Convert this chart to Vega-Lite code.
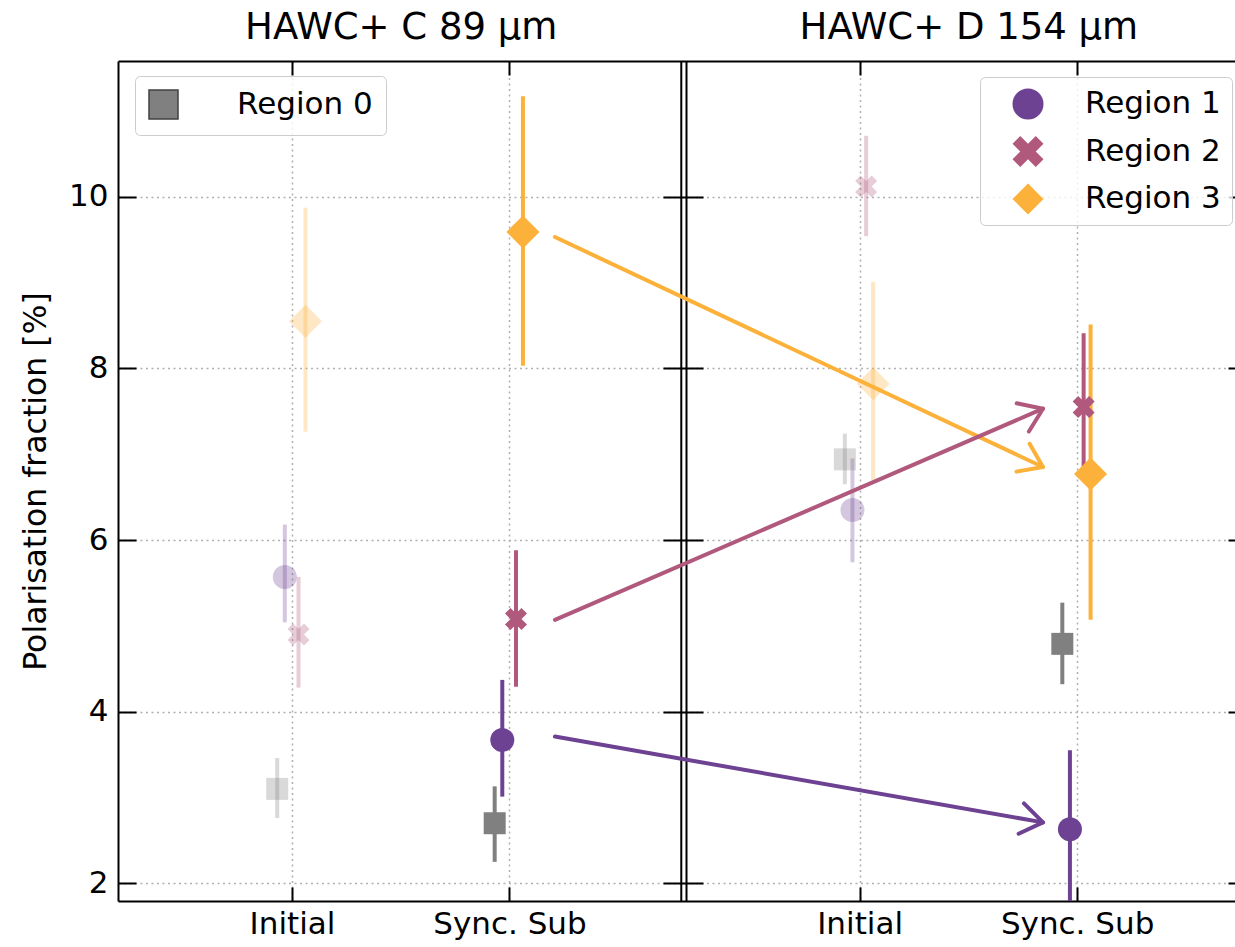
{
  "$schema": "https://vega.github.io/schema/vega-lite/v6.json",
  "width": 1117,
  "height": 840,
  "autosize": {"type": "none"},
  "padding": {"left": 118, "top": 61, "right": 0, "bottom": 46},
  "background": "white",
  "config": {
    "view": {"stroke": null},
    "font": "DejaVu Sans",
    "axis": {"labelFont": "DejaVu Sans", "titleFont": "DejaVu Sans", "labelColor": "black", "titleColor": "black", "tickColor": "black", "domainColor": "black"},
    "legend": {"labelFont": "DejaVu Sans", "labelColor": "black"}
  },
  "datasets": {
    "pts": [
      {"band": "C 89", "stage": "Initial", "region": "Region 0", "p": 3.10, "lo": 2.76, "hi": 3.46},
      {"band": "C 89", "stage": "Initial", "region": "Region 1", "p": 5.57, "lo": 5.04, "hi": 6.18},
      {"band": "C 89", "stage": "Initial", "region": "Region 2", "p": 4.90, "lo": 4.28, "hi": 5.57},
      {"band": "C 89", "stage": "Initial", "region": "Region 3", "p": 8.55, "lo": 7.26, "hi": 9.87},
      {"band": "C 89", "stage": "Sync. Sub", "region": "Region 0", "p": 2.70, "lo": 2.25, "hi": 3.13},
      {"band": "C 89", "stage": "Sync. Sub", "region": "Region 1", "p": 3.67, "lo": 3.01, "hi": 4.37},
      {"band": "C 89", "stage": "Sync. Sub", "region": "Region 2", "p": 5.08, "lo": 4.29, "hi": 5.88},
      {"band": "C 89", "stage": "Sync. Sub", "region": "Region 3", "p": 9.59, "lo": 8.03, "hi": 11.17},
      {"band": "D 154", "stage": "Initial", "region": "Region 0", "p": 6.94, "lo": 6.65, "hi": 7.24},
      {"band": "D 154", "stage": "Initial", "region": "Region 1", "p": 6.35, "lo": 5.74, "hi": 6.95},
      {"band": "D 154", "stage": "Initial", "region": "Region 2", "p": 10.12, "lo": 9.54, "hi": 10.71},
      {"band": "D 154", "stage": "Initial", "region": "Region 3", "p": 7.82, "lo": 6.70, "hi": 9.01},
      {"band": "D 154", "stage": "Sync. Sub", "region": "Region 0", "p": 4.79, "lo": 4.32, "hi": 5.27},
      {"band": "D 154", "stage": "Sync. Sub", "region": "Region 1", "p": 2.63, "lo": 1.71, "hi": 3.55},
      {"band": "D 154", "stage": "Sync. Sub", "region": "Region 2", "p": 7.55, "lo": 6.70, "hi": 8.41},
      {"band": "D 154", "stage": "Sync. Sub", "region": "Region 3", "p": 6.77, "lo": 5.07, "hi": 8.51}
    ],
    "arrows": [
      {"region": "Region 3", "x1": 1.209, "y1": 9.53, "x2": 3.453, "y2": 6.85},
      {"region": "Region 2", "x1": 1.209, "y1": 5.07, "x2": 3.453, "y2": 7.53},
      {"region": "Region 1", "x1": 1.209, "y1": 3.71, "x2": 3.453, "y2": 2.71}
    ]
  },
  "layer": [
    {
      "data": {"values": [{}]},
      "mark": {"type": "rule", "strokeWidth": 2, "color": "black"},
      "encoding": {"x": {"datum": 1.79, "type": "quantitative", "scale": {"domain": [-0.8, 4.336], "nice": false, "zero": false}, "axis": null}}
    },
    {
      "data": {"values": [{}]},
      "mark": {"type": "rule", "strokeWidth": 2, "color": "black"},
      "encoding": {"x": {"datum": 1.814, "type": "quantitative", "scale": {"domain": [-0.8, 4.336], "nice": false, "zero": false}, "axis": null}}
    },
    {
      "data": {"name": "pts"},
      "transform": [
        {"calculate": "(datum.band === 'D 154' ? 2.61 : 0) + (datum.stage === 'Sync. Sub' ? 1 : 0) + (datum.region === 'Region 0' ? -0.068 : datum.region === 'Region 1' ? -0.033 : datum.region === 'Region 2' ? 0.03 : 0.062)", "as": "xpos"}
      ],
      "mark": {"type": "rule", "strokeWidth": 4, "clip": true},
      "encoding": {
        "x": {"field": "xpos", "type": "quantitative", "scale": {"domain": [-0.8, 4.336], "nice": false, "zero": false},
          "axis": {"orient": "bottom", "values": [0, 1, 2.61, 3.61], "labelExpr": "(datum.value < 0.5 || (datum.value > 2 && datum.value < 3)) ? 'Initial' : 'Sync. Sub'", "labelFontSize": 31, "labelPadding": 22, "tickSize": -14, "tickWidth": 2, "domain": true, "domainWidth": 2, "grid": true, "gridDash": [2, 3.5], "gridColor": "#b0b0b0", "gridWidth": 1.5, "title": null, "labelFlush": false, "labelOverlap": false, "labelBound": false}},
        "y": {"field": "lo", "type": "quantitative", "scale": {"domain": [1.794, 11.581], "nice": false, "zero": false},
          "axis": {"orient": "left", "values": [2, 4, 6, 8, 10], "format": "d", "labelFontSize": 31, "labelPadding": 28, "tickSize": -18, "tickWidth": 2, "domain": true, "domainWidth": 2, "grid": true, "gridDash": [2, 3.5], "gridColor": "#b0b0b0", "gridWidth": 1.5, "title": "Polarisation fraction [%]", "titleFontSize": 31.5, "titleFontWeight": "normal", "titlePadding": 16, "labelFlush": false, "labelOverlap": false}},
        "y2": {"field": "hi"},
        "color": {"field": "region", "type": "nominal", "scale": {"domain": ["Region 0", "Region 1", "Region 2", "Region 3"], "range": ["#808080", "#6d4292", "#b0597c", "#fbb13a"]}, "legend": null},
        "opacity": {"condition": {"test": "datum.stage === 'Initial'", "value": 0.3}, "value": 1}
      }
    },
    {
      "data": {"name": "pts"},
      "transform": [
        {"filter": "datum.region === 'Region 0'"},
        {"calculate": "(datum.band === 'D 154' ? 2.61 : 0) + (datum.stage === 'Sync. Sub' ? 1 : 0) - 0.068", "as": "xpos"}
      ],
      "mark": {"type": "point", "filled": true, "size": 484},
      "encoding": {
        "x": {"field": "xpos", "type": "quantitative", "scale": {"domain": [-0.8, 4.336], "nice": false, "zero": false},
          "axis": {"orient": "top", "values": [0, 1, 2.61, 3.61], "labels": false, "tickSize": -14, "tickWidth": 2, "domain": true, "domainWidth": 2, "grid": false, "title": null}},
        "y": {"field": "p", "type": "quantitative", "scale": {"domain": [1.794, 11.581], "nice": false, "zero": false},
          "axis": {"orient": "left", "offset": -585, "values": [2, 4, 6, 8, 10], "labels": false, "tickSize": 40, "tickWidth": 2, "domain": false, "grid": false, "title": null}},
        "color": {"field": "region", "type": "nominal", "scale": {"domain": ["Region 0"], "range": ["#808080"]},
          "legend": {"orient": "none", "legendX": 17, "legendY": 15, "title": null, "labelFontSize": 31, "labelLimit": 400, "symbolSize": 841, "padding": 13, "labelOffset": 58, "strokeColor": "#cccccc", "fillColor": "rgba(255,255,255,0.8)", "cornerRadius": 5, "symbolStrokeColor": "#404040", "symbolStrokeWidth": 1.5}},
        "shape": {"field": "region", "type": "nominal", "scale": {"domain": ["Region 0"], "range": ["square"]},
          "legend": {"orient": "none", "legendX": 17, "legendY": 15, "title": null, "labelFontSize": 31, "labelLimit": 400, "symbolSize": 841, "padding": 13, "labelOffset": 58, "strokeColor": "#cccccc", "fillColor": "rgba(255,255,255,0.8)", "cornerRadius": 5, "symbolStrokeColor": "#404040", "symbolStrokeWidth": 1.5}},
        "opacity": {"condition": {"test": "datum.stage === 'Initial'", "value": 0.3}, "value": 1}
      }
    },
    {
      "data": {"name": "pts"},
      "transform": [
        {"filter": "datum.region !== 'Region 0'"},
        {"calculate": "(datum.band === 'D 154' ? 2.61 : 0) + (datum.stage === 'Sync. Sub' ? 1 : 0) + (datum.region === 'Region 1' ? -0.033 : datum.region === 'Region 2' ? 0.03 : 0.062)", "as": "xpos"}
      ],
      "mark": {"type": "point", "filled": true},
      "encoding": {
        "x": {"field": "xpos", "type": "quantitative", "scale": {"domain": [-0.8, 4.336], "nice": false, "zero": false},
          "axis": {"orient": "top", "values": [0.5, 3.11], "ticks": false, "domain": false, "grid": false, "labelExpr": "datum.value < 2 ? 'HAWC+ C 89 μm' : 'HAWC+ D 154 μm'", "labelFontSize": 37, "labelPadding": 23, "labelBaseline": "alphabetic", "labelLimit": 0, "labelFlush": false, "labelOverlap": false, "labelBound": false, "title": null}},
        "y": {"field": "p", "type": "quantitative", "scale": {"domain": [1.794, 11.581], "nice": false, "zero": false},
          "axis": {"orient": "right", "values": [2, 4, 6, 8, 10], "labels": false, "tickSize": -7, "tickWidth": 2, "domain": false, "grid": false, "title": null}},
        "color": {"field": "region", "type": "nominal", "scale": {"domain": ["Region 1", "Region 2", "Region 3"], "range": ["#6d4292", "#b0597c", "#fbb13a"]},
          "legend": {"orient": "none", "legendX": 862, "legendY": 16, "title": null, "labelFontSize": 31, "labelLimit": 400, "symbolSize": 961, "padding": 10.5, "rowPadding": 15.5, "labelOffset": 40.5, "symbolOffset": 21, "strokeColor": "#cccccc", "fillColor": "rgba(255,255,255,0.8)", "cornerRadius": 5}},
        "shape": {"field": "region", "type": "nominal", "scale": {"domain": ["Region 1", "Region 2", "Region 3"], "range": ["circle", "M-0.5,-1L0,-0.5L0.5,-1L1,-0.5L0.5,0L1,0.5L0.5,1L0,0.5L-0.5,1L-1,0.5L-0.5,0L-1,-0.5Z", "diamond"]},
          "legend": {"orient": "none", "legendX": 862, "legendY": 16, "title": null, "labelFontSize": 31, "labelLimit": 400, "symbolSize": 961, "padding": 10.5, "rowPadding": 15.5, "labelOffset": 40.5, "symbolOffset": 21, "strokeColor": "#cccccc", "fillColor": "rgba(255,255,255,0.8)", "cornerRadius": 5}},
        "size": {"condition": [{"test": "datum.region === 'Region 3'", "value": 1089}, {"test": "datum.region === 'Region 1'", "value": 576}], "value": 484},
        "opacity": {"condition": {"test": "datum.stage === 'Initial'", "value": 0.3}, "value": 1}
      }
    },
    {
      "data": {"name": "arrows"},
      "mark": {"type": "rule", "strokeWidth": 4, "strokeCap": "round"},
      "encoding": {
        "x": {"field": "x1", "type": "quantitative", "scale": {"domain": [-0.8, 4.336], "nice": false, "zero": false}, "axis": null},
        "y": {"field": "y1", "type": "quantitative", "scale": {"domain": [1.794, 11.581], "nice": false, "zero": false}, "axis": null},
        "x2": {"field": "x2"},
        "y2": {"field": "y2"},
        "color": {"field": "region", "type": "nominal", "scale": {"domain": ["Region 1", "Region 2", "Region 3"], "range": ["#6d4292", "#b0597c", "#fbb13a"]}, "legend": null}
      }
    },
    {
      "data": {"name": "arrows"},
      "transform": [
        {"calculate": "atan2((datum.y1 - datum.y2) * 85.83, (datum.x2 - datum.x1) * 217.5) * 180 / PI", "as": "ang"}
      ],
      "mark": {"type": "point", "filled": false, "strokeWidth": 4, "strokeCap": "round", "strokeJoin": "round", "size": 1936, "shape": "M-1,-0.7L0,0L-1,0.7", "opacity": 1},
      "encoding": {
        "x": {"field": "x2", "type": "quantitative", "scale": {"domain": [-0.8, 4.336], "nice": false, "zero": false}, "axis": null},
        "y": {"field": "y2", "type": "quantitative", "scale": {"domain": [1.794, 11.581], "nice": false, "zero": false}, "axis": null},
        "angle": {"field": "ang", "type": "quantitative", "scale": null},
        "color": {"field": "region", "type": "nominal", "scale": {"domain": ["Region 1", "Region 2", "Region 3"], "range": ["#6d4292", "#b0597c", "#fbb13a"]}, "legend": null}
      }
    }
  ],
  "resolve": {
    "scale": {"color": "independent", "shape": "independent"},
    "axis": {"x": "independent", "y": "independent"}
  }
}
